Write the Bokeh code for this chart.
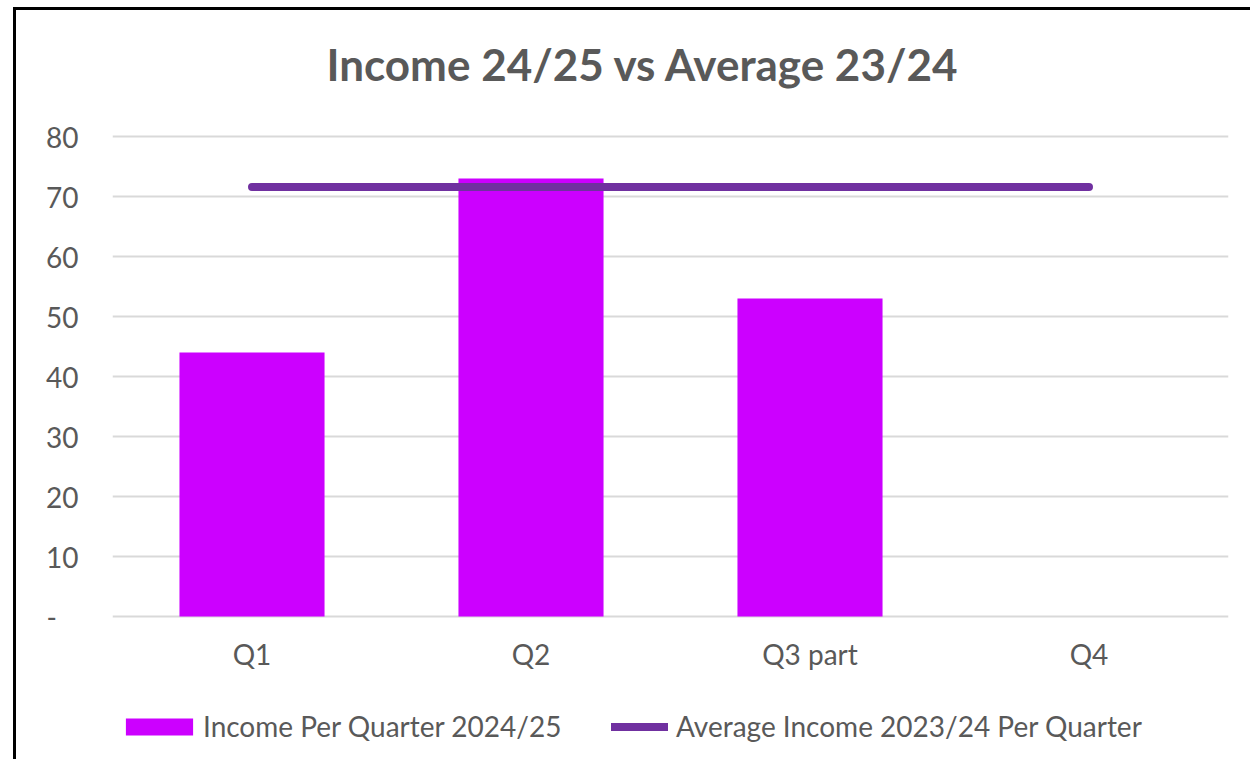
from bokeh.plotting import figure
from bokeh.models import ColumnDataSource, Legend, LegendItem, FixedTicker
from bokeh.layouts import column
from bokeh.embed import file_html
from bokeh.resources import INLINE

categories = ["Q1", "Q2", "Q3 part", "Q4"]
income_2425 = [44, 73, 53, float("nan")]
avg_2324 = [71.6, 71.6, 71.6, 71.6]
y_ticks = [0, 10, 20, 30, 40, 50, 60, 70, 80]
series_names = ["Income Per Quarter 2024/25", "Average Income 2023/24 Per Quarter"]
chart_title = "Income 24/25 vs Average 23/24"

FONT = "Lato"
GREY = "#595959"
BAR_COLOR = "#CC00FF"
LINE_COLOR = "#7030A0"
W = 1234
BORDERS = dict(min_border_left=96, min_border_right=22)

src = ColumnDataSource(dict(cat=categories, income=income_2425, avg=avg_2324))

# ---- title strip ----
p0 = figure(x_range=categories, y_range=(0, 1), width=W, height=80,
            output_backend="svg", toolbar_location=None,
            x_axis_location=None, y_axis_location=None,
            min_border_top=79, min_border_bottom=0, **BORDERS)
p0.outline_line_color = None
p0.grid.grid_line_color = None
p0.title.text = chart_title
p0.title.text_font = FONT
p0.title.text_font_size = "44px"
p0.title.text_color = GREY
p0.title.align = "left"
p0.title.offset = 214
p0.title.standoff = 0

# ---- main chart ----
p = figure(x_range=categories, y_range=(-0.5, 80.5), width=W, height=595,
           output_backend="svg", toolbar_location=None,
           min_border_top=43, min_border_bottom=66, **BORDERS)

p.vbar(x="cat", top="income", width=0.52, source=src, fill_color=BAR_COLOR, line_color=None)
p.line(x="cat", y="avg", source=src, line_color=LINE_COLOR, line_width=8, line_cap="round")

p.outline_line_color = None
p.xgrid.grid_line_color = None
p.ygrid.grid_line_color = "#D9D9D9"
p.ygrid.grid_line_width = 2
p.yaxis.ticker = FixedTicker(ticks=y_ticks)
p.yaxis.major_label_overrides = {0: "-\u00a0\u00a0\u00a0"}
for ax in (p.xaxis, p.yaxis):
    ax.axis_line_color = None
    ax.major_tick_line_color = None
    ax.minor_tick_line_color = None
    ax.major_label_text_font = FONT
    ax.major_label_text_font_size = "28px"
    ax.major_label_text_color = GREY
p.yaxis.major_label_standoff = 28
p.xaxis.major_label_standoff = 11

# ---- legend strip (legend drawn inside its own small figure) ----
p2 = figure(x_range=categories, y_range=(1000, 1001), width=W, height=74,
            output_backend="svg", toolbar_location=None,
            x_axis_location=None, y_axis_location=None,
            min_border_top=0, min_border_bottom=0, **BORDERS)
p2.outline_line_color = None
p2.grid.grid_line_color = None
lbars = p2.vbar(x="cat", top="income", width=0.52, source=src, fill_color=BAR_COLOR, line_color=None)
lline = p2.line(x="cat", y="avg", source=src, line_color=LINE_COLOR, line_width=8, line_cap="round")

common = dict(orientation="horizontal", label_text_font=FONT, label_text_font_size="28px",
              label_text_color=GREY, padding=0, margin=0, border_line_color=None,
              background_fill_alpha=0, glyph_height=21)
leg1 = Legend(items=[LegendItem(label=series_names[0], renderers=[lbars])],
              location=(5, 16), glyph_width=84, label_standoff=2, **common)
leg2 = Legend(items=[LegendItem(label=series_names[1], renderers=[lline])],
              location=(499, 16), glyph_width=57, label_standoff=8, **common)
p2.add_layout(leg1)
p2.add_layout(leg2)

layout = column(p0, p, p2, margin=(7, 0, 0, 13), spacing=0,
                styles={"border-left": "3px solid black", "border-top": "3px solid black"})

open("out.html", "w").write(file_html(layout, INLINE))
